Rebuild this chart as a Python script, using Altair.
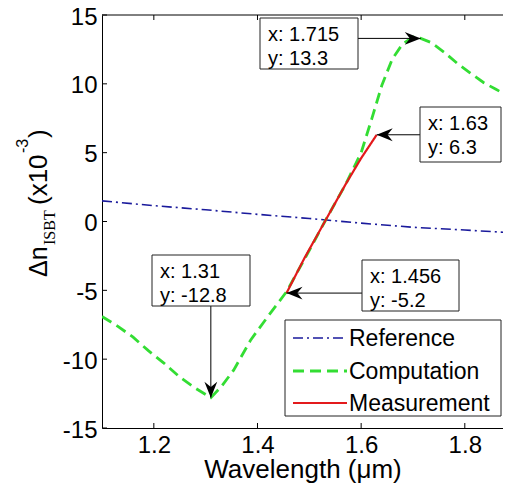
import altair as alt
import pandas as pd

# ---------------- data ----------------
ref_x = [1.10, 1.20, 1.30, 1.40, 1.50, 1.60, 1.70, 1.80, 1.89]
ref_y = [1.50, 1.15, 0.85, 0.52, 0.22, -0.12, -0.42, -0.62, -0.82]

comp_x = [1.10, 1.13, 1.16, 1.19, 1.22, 1.25, 1.28, 1.31, 1.33, 1.354, 1.387, 1.42,
          1.456, 1.50, 1.53, 1.57, 1.60, 1.62, 1.64, 1.66, 1.68, 1.70, 1.715, 1.735,
          1.76, 1.785, 1.81, 1.836, 1.86, 1.89]
comp_y = [-6.9, -7.6, -8.4, -9.4, -10.3, -11.3, -12.1, -12.8, -12.0, -10.8, -8.6, -6.9,
          -5.1, -2.1, 0.0, 2.7, 5.0, 7.4, 9.9, 11.8, 12.9, 13.4, 13.3, 13.0,
          12.3, 11.5, 10.8, 10.1, 9.6, 9.0]

meas_x = [1.456, 1.49, 1.53, 1.57, 1.60, 1.63]
meas_y = [-5.2, -2.7, 0.0, 2.7, 4.6, 6.3]

tip_x = [1.715, 1.63, 1.31, 1.456]
tip_y = [13.3, 6.3, -12.8, -5.2]

series_names = ["Reference", "Computation", "Measurement"]
x_ticks = [1.2, 1.4, 1.6, 1.8]
y_ticks = [-15, -10, -5, 0, 5, 10, 15]

# ---------------- layout / style ----------------
W, H = 401, 413
PXX = 518.3
X_DOM = [1.1, 1.1 + W / PXX]
Y_DOM = [-15, 15]
PXY = H / (Y_DOM[1] - Y_DOM[0])
FONT = "Liberation Sans"

COL = {"Reference": "#1a1a9c", "Computation": "#33dd33", "Measurement": "#e31a1c"}
DASH = {"Reference": [10, 4, 2, 4], "Computation": [11, 6], "Measurement": [1, 0]}
SW = {"Reference": 1.6, "Computation": 2.8, "Measurement": 2.2}


def px_to_x(px):
    return X_DOM[0] + px / PXX


def px_to_y(py):
    return Y_DOM[1] - py / PXY


# datatip boxes in plot pixels (left, right, top, bottom)
boxes_px = [(158, 256, 3, 54), (318, 399, 92, 147), (50, 148, 240, 291), (260, 357, 245, 296)]
arrow_side = ["R", "L", "B", "L"]
head_angle = {"R": 90, "L": 270, "B": 180}

xs = alt.Scale(domain=X_DOM, nice=False, zero=False)
ys = alt.Scale(domain=Y_DOM, nice=False, zero=False)

x_axis = alt.Axis(values=x_ticks, ticks=False, grid=False, domainColor="black",
                  labelFont=FONT, labelFontSize=24, labelColor="black", labelPadding=5,
                  labelExpr="'' + datum.value", labelFlush=False,
                  title="Wavelength (\u03bcm)", titleFont=FONT, titleFontSize=26,
                  titleFontWeight="normal", titleColor="black",
                  titleBaseline="alphabetic", titleY=49)
y_axis = alt.Axis(values=y_ticks, ticks=False, grid=False, domainColor="black",
                  labelFont=FONT, labelFontSize=24, labelColor="black", labelPadding=5,
                  labelExpr="'' + datum.value", labelFlush=False, labelOffset=2, title=None)


def X(f="x"):
    return alt.X(f"{f}:Q", scale=xs, axis=x_axis)


def Y(f="y"):
    return alt.Y(f"{f}:Q", scale=ys, axis=y_axis)


one = pd.DataFrame({"k": [0]})
layers = []

# curves
for name, xv, yv in [("Reference", ref_x, ref_y), ("Computation", comp_x, comp_y),
                     ("Measurement", meas_x, meas_y)]:
    df = pd.DataFrame({"x": xv, "y": yv})
    layers.append(alt.Chart(df).mark_line(color=COL[name], strokeDash=DASH[name],
                                          strokeWidth=SW[name], clip=True).encode(x=X(), y=Y()))

# inward ticks and top border
layers.append(alt.Chart(pd.DataFrame({"x": x_ticks})).mark_rule(color="black").encode(
    x=X(), y=alt.value(H), y2=alt.value(H - 5)))
layers.append(alt.Chart(pd.DataFrame({"x": x_ticks})).mark_rule(color="black").encode(
    x=X(), y=alt.value(0), y2=alt.value(5)))
layers.append(alt.Chart(pd.DataFrame({"y": y_ticks})).mark_rule(color="black").encode(
    y=Y(), x=alt.value(0), x2=alt.value(5)))
layers.append(alt.Chart(one).mark_rule(color="black").encode(
    x=alt.value(0), x2=alt.value(W), y=alt.value(0)))

# datatips
rows = []
for (l, r, t, b), side, tx, ty in zip(boxes_px, arrow_side, tip_x, tip_y):
    if side == "R":
        sx, sy = px_to_x(r), ty
    elif side == "L":
        sx, sy = px_to_x(l), ty
    else:
        sx, sy = tx, px_to_y(b)
    rows.append({"bx0": px_to_x(l), "bx1": px_to_x(r), "by0": px_to_y(t), "by1": px_to_y(b),
                 "sx": sx, "sy": sy, "x": tx, "y": ty, "ang": head_angle[side],
                 "label": f"x: {tx}\ny: {ty}"})
tips = pd.DataFrame(rows)

layers.append(alt.Chart(tips).mark_rule(color="black", strokeWidth=1).encode(
    x=X("sx"), y=Y("sy"), x2=alt.X2("x:Q"), y2=alt.Y2("y:Q")))
arrow_path = "M0,0 L-0.8,2 L0,1.35 L0.8,2 Z"
layers.append(alt.Chart(tips).mark_point(shape=arrow_path, filled=True, color="black",
                                         size=256, opacity=1).encode(
    x=X(), y=Y(), angle=alt.Angle("ang:Q", scale=None)))
layers.append(alt.Chart(tips).mark_rect(fill="white", stroke="#222222", strokeWidth=1).encode(
    x=X("bx0"), x2=alt.X2("bx1:Q"), y=Y("by0"), y2=alt.Y2("by1:Q")))
layers.append(alt.Chart(tips).mark_text(align="left", baseline="alphabetic", dx=8, dy=23,
                                        lineBreak="\n", lineHeight=24, font=FONT,
                                        fontSize=20, color="black").encode(
    x=X("bx0"), y=Y("by0"), text="label:N"))

# legend (manual, MATLAB style)
LEG = dict(l=183, r=399, t=305, b=401, l0=191, l1=245, tx=247, rows=[323, 356, 388])
layers.append(alt.Chart(one).mark_rect(fill="white", stroke="#222222", strokeWidth=1).encode(
    x=alt.value(LEG["l"]), x2=alt.value(LEG["r"]), y=alt.value(LEG["t"]), y2=alt.value(LEG["b"])))
for name, ry in zip(series_names, LEG["rows"]):
    layers.append(alt.Chart(one).mark_rule(color=COL[name], strokeDash=DASH[name],
                                           strokeWidth=SW[name]).encode(
        x=alt.value(LEG["l0"]), x2=alt.value(LEG["l1"]), y=alt.value(ry)))
    layers.append(alt.Chart(one).mark_text(align="left", baseline="middle", font=FONT,
                                           fontSize=23, color="black").encode(
        x=alt.value(LEG["tx"]), y=alt.value(ry + 1), text=alt.value(name)))

# y-axis title pieces: (text, font, size, x_px, y_px) in plot pixels
ytitle = [("\u0394n", FONT, 25, -55, 262),
          ("ISBT", "Liberation Serif", 16, -47, 230),
          ("(x10", FONT, 26, -55, 190),
          ("-3", FONT, 16, -74, 138),
          (")", FONT, 26, -55, 123)]
for txt, fnt, fs, xp, yp in ytitle:
    layers.append(alt.Chart(one).mark_text(align="left", baseline="alphabetic", angle=270,
                                           font=fnt, fontSize=fs, color="black").encode(
        x=alt.value(xp), y=alt.value(yp), text=alt.value(txt)))

chart = alt.layer(*layers).properties(
    width=W, height=H,
    padding={"left": 94, "top": 7, "right": 0, "bottom": 56},
    autosize=alt.AutoSizeParams(type="none"),
    background="white",
).configure_view(stroke=None)

chart.save("out.html", embed_options={"renderer": "svg", "actions": False})
